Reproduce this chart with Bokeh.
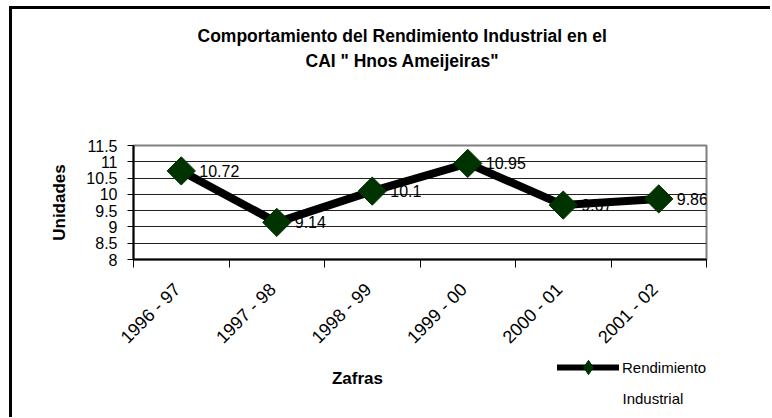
from math import pi
from bokeh.plotting import figure
from bokeh.layouts import column
from bokeh.models import (FixedTicker, Label, Legend, LegendItem, ColumnDataSource, Range1d, Title)
from bokeh.core.properties import value
from bokeh.embed import file_html
from bokeh.resources import INLINE

# ---- data ----
zafras = ["1996 - 97", "1997 - 98", "1998 - 99", "1999 - 00", "2000 - 01", "2001 - 02"]
rendimiento = [10.72, 9.14, 10.1, 10.95, 9.67, 9.86]
etiquetas = ["10.72", "9.14", "10.1", "10.95", "9.67", "9.86"]
y_ticks = [8, 8.5, 9, 9.5, 10, 10.5, 11, 11.5]
y_tick_labels = ["8", "8.5", "9", "9.5", "10", "10.5", "11", "11.5"]

FONT = "Liberation Sans"

xpos = [i + 0.5 for i in range(len(zafras))]
label_pos = [i + 0.46 for i in range(len(zafras))]
src = ColumnDataSource(dict(x=xpos, y=rendimiento, lab=etiquetas))

# ---------- main chart ----------
p = figure(width=758, height=348, output_backend="svg", toolbar_location=None,
           title_location=None,
           x_range=Range1d(0, len(zafras)), y_range=Range1d(8, 11.5),
           min_border_left=121, min_border_right=64, min_border_top=136, min_border_bottom=98)
p.background_fill_color = "white"
p.border_fill_color = "white"
p.outline_line_color = "#808080"
p.outline_line_width = 2

p.xaxis.ticker = FixedTicker(ticks=label_pos, minor_ticks=list(range(len(zafras) + 1)))
p.xaxis.major_label_overrides = {x: z for x, z in zip(label_pos, zafras)}
p.xaxis.major_label_orientation = pi / 4
p.xaxis.major_tick_in = 0
p.xaxis.major_tick_out = 0
p.xaxis.minor_tick_in = 0
p.xaxis.minor_tick_out = 8
p.xaxis.minor_tick_line_color = "black"
p.xaxis.axis_line_color = "black"
p.xaxis.axis_line_width = 2
p.xaxis.major_label_text_font = FONT
p.xaxis.major_label_text_font_size = "18px"
p.xaxis.major_label_text_color = "black"
p.xaxis.major_label_standoff = 19

p.yaxis.ticker = FixedTicker(ticks=y_ticks)
p.yaxis.major_label_overrides = {t: s for t, s in zip(y_ticks, y_tick_labels)}
p.yaxis.minor_tick_line_color = None
p.yaxis.major_tick_in = 0
p.yaxis.major_tick_out = 6
p.yaxis.major_tick_line_color = "black"
p.yaxis.axis_line_color = "black"
p.yaxis.axis_line_width = 2
p.yaxis.major_label_text_font = FONT
p.yaxis.major_label_text_font_size = "16px"
p.yaxis.major_label_text_color = "black"
p.yaxis.major_label_standoff = 10
p.yaxis.axis_label = "Unidades"
p.yaxis.axis_label_text_font = FONT
p.yaxis.axis_label_text_font_size = "17px"
p.yaxis.axis_label_text_font_style = "bold"
p.yaxis.axis_label_text_color = "black"
p.yaxis.axis_label_standoff = 14

p.xgrid.grid_line_color = None
p.ygrid.ticker = FixedTicker(ticks=y_ticks)
p.ygrid.grid_line_color = "#222222"
p.ygrid.grid_line_width = 1

p.text(x="x", y="y", text="lab", source=src, x_offset=18, text_baseline="middle",
       text_align="left", text_font=value(FONT), text_font_size="16px", text_color="black")
p.line(x="x", y="y", source=src, line_color="black", line_width=8, line_join="round")
p.scatter(x="x", y="y", source=src, marker="square", angle=pi / 4, size=20,
          fill_color="#003300", line_color="#003300")

# titles (spacer nearest the frame, then the two title lines)
p.add_layout(Title(text=" ", standoff=51, text_font_size="18px"), "above")
p.add_layout(Title(text="CAI \" Hnos Ameijeiras\"", align="left", offset=172, standoff=3,
                   text_font=FONT, text_font_size="17.5px", text_font_style="bold",
                   text_color="black"), "above")
p.add_layout(Title(text="Comportamiento del Rendimiento Industrial en el", align="left",
                   offset=64, standoff=3, text_font=FONT, text_font_size="17.5px",
                   text_font_style="bold", text_color="black"), "above")

# ---------- strip below: axis title + legend (frame aligned with the chart's frame) ----------
q = figure(width=758, height=60, output_backend="svg", toolbar_location=None,
           title_location=None, x_axis_location=None, y_axis_location=None,
           x_range=Range1d(0, 1), y_range=Range1d(0, 1), min_border=0)
q.outline_line_color = None
q.grid.visible = False
lg_line = q.line(x="x", y="y", source=src, line_color="black", line_width=6, line_cap="round")
lg_mark = q.scatter(x="x", y="y", source=src, marker="diamond", size=20,
                    fill_color="#003300", line_color="#003300")
legend = Legend(items=[LegendItem(label="Rendimiento", renderers=[lg_line, lg_mark])],
                location=(424, 32), glyph_width=62, glyph_height=36, padding=0, margin=0,
                label_standoff=3, border_line_color=None, background_fill_alpha=0,
                label_text_font=FONT, label_text_font_size="15px", label_text_color="black")
q.add_layout(legend, "center")
q.add_layout(Label(x=489, y=19, x_units="screen", y_units="screen", text="Industrial",
                   text_align="left", text_baseline="middle", text_font=FONT,
                   text_font_size="15px", text_color="black"))
q.add_layout(Label(x=224, y=39, x_units="screen", y_units="screen", text="Zafras",
                   text_align="center", text_baseline="middle", text_font=FONT,
                   text_font_size="17px", text_font_style="bold", text_color="black"))

page = column(p, q, spacing=0,
              styles={"border-left": "3px solid black", "border-top": "3px solid black",
                      "margin-left": "9px", "margin-top": "6px"})

open("out.html", "w").write(file_html(page, INLINE))
